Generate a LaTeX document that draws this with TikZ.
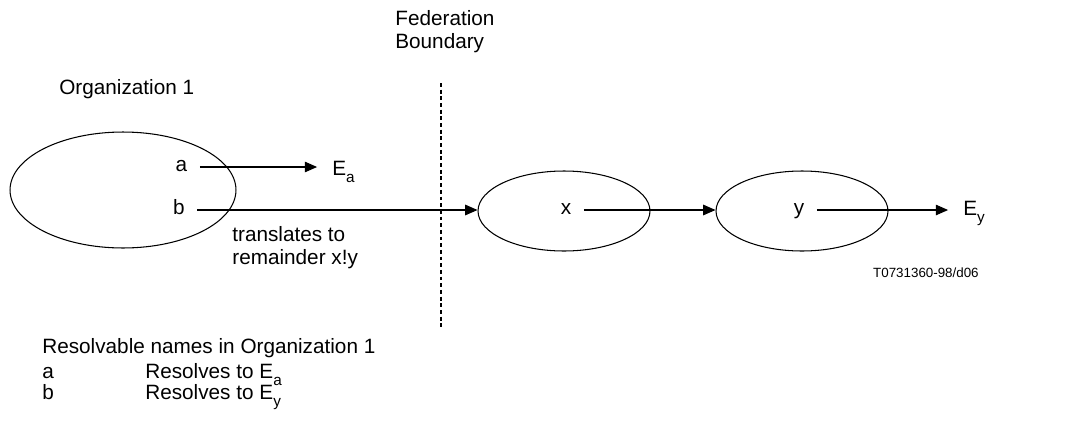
\documentclass[tikz,border=0pt]{standalone}
\usepackage{fontspec}
\setmainfont{Liberation Sans}
\usetikzlibrary{arrows.meta,positioning,shapes.geometric}
\newcommand{\subidx}[1]{\raisebox{-4.3pt}{\fontsize{8.7}{10}\selectfont #1}}
\tikzset{
  realm/.style={ellipse, draw=black, line width=0.6pt, inner sep=0pt},
  orgname/.style={inner sep=4pt, text height=1ex, text depth=0pt},
  plain/.style={inner sep=0pt, anchor=base west, align=left},
  flow/.style={-{Triangle[length=7pt,width=6pt]}, line width=0.6pt, shorten <=3pt},
  boundary/.style={line width=0.6pt, dash pattern=on 2.2pt off 1.6pt}
}

\begin{document}
\begin{tikzpicture}[x=0.02cm,y=-0.02cm,font=\fontsize{11.8}{13}\selectfont]
    \useasboundingbox (0,0) rectangle (1074,423);
    % realms
    \node[realm,minimum width=4.52cm,minimum height=2.32cm] (org) at (123,190) {};
    \node[realm,minimum width=3.44cm,minimum height=1.6cm] (realmx) at (564,211) {};
    \node[realm,minimum width=3.44cm,minimum height=1.6cm] (realmy) at (802,211) {};
    % names
    \node[orgname] (a) at (181.5,167) {a};
    \node[orgname] (b) at (179,210) {b};
    \node[orgname] (x) at (566,210) {x};
    \node[orgname] (y) at (799,210) {y};
    \node[plain,inner sep=4pt] (Ea) at (325,175) {E\subidx{a}};
    \node[plain,inner sep=4pt] (Ey) at (956,215) {E\subidx{y}};
    \draw[flow,shorten >=4.5pt] (a.east) -- (a.east -| Ea.west);
    \draw[flow] (b.east) -- (b.east -| realmx.west);
    \draw[flow] (x.east) -- (x.east -| realmy.west);
    \draw[flow,shorten >=4.5pt] (y.east) -- (y.east -| Ey.west);
    % boundary
    \coordinate (fbtop) at (441,83);
    \coordinate (fbbot) at (441,327);
    \draw[boundary] (fbtop) -- (fbbot);
    % texts
    \node[plain,anchor=north west] (fed) at (395,10) {Federation\\Boundary};
    \node[plain] (orglabel) at (59,94) {Organization 1};
    \node[plain,anchor=north west] (transl) at (232,226.5) {translates to\\remainder x!y};
    \node[inner sep=0pt,anchor=east,font=\fontsize{7.6}{9}\selectfont] (fig) at (979,273) {T0731360-98/d06};
    \node[plain] (legend) at (42,353) {Resolvable names in Organization 1};
    \node[plain] (la) at (42,378) {a};
    \node[plain] (ra) at (145,378) {Resolves to E\subidx{a}};
    \node[plain] (lb) at (42,399) {b};
    \node[plain] (rb) at (145,399) {Resolves to E\subidx{y}};
\end{tikzpicture}
\end{document}
